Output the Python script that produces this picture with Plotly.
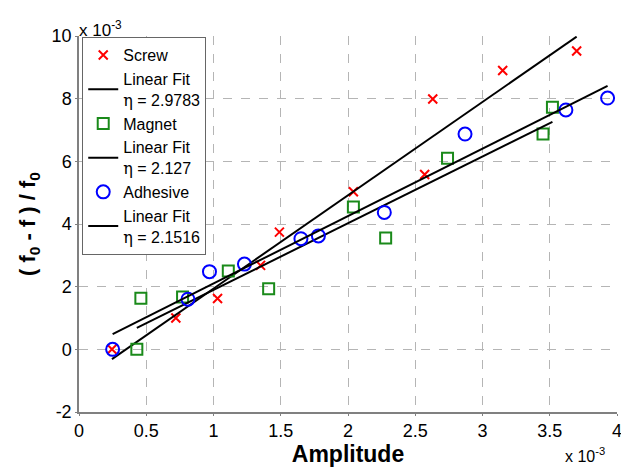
import plotly.graph_objects as go

# Data (values in units of 1e-3)
x_screw = [0.245, 0.72, 1.03, 1.35, 1.49, 2.04, 2.57, 2.63, 3.15, 3.70]
y_screw = [0.0, 1.0, 1.62, 2.68, 3.74, 5.03, 5.58, 7.99, 8.90, 9.52]
x_magnet = [0.43, 0.46, 0.77, 1.11, 1.41, 2.04, 2.28, 2.74, 3.45, 3.52]
y_magnet = [0.0, 1.63, 1.67, 2.50, 1.93, 4.54, 3.55, 6.10, 6.87, 7.73]
x_adhesive = [0.25, 0.81, 0.97, 1.23, 1.65, 1.78, 2.27, 2.87, 3.62, 3.93]
y_adhesive = [0.0, 1.60, 2.48, 2.72, 3.53, 3.62, 4.37, 6.87, 7.64, 8.02]

series_names = ["Screw", "Magnet", "Adhesive"]
fit_slopes = [2.9783, 2.127, 2.1516]
fit_intercepts = [-1.04, -0.23, -0.05]

x_ticks = [0, 0.5, 1, 1.5, 2, 2.5, 3, 3.5, 4]
y_ticks = [-2, 0, 2, 4, 6, 8, 10]

FONT = "Arial, Liberation Sans, sans-serif"
datasets = [(x_screw, y_screw), (x_magnet, y_magnet), (x_adhesive, y_adhesive)]
markers = [
    dict(symbol="x-thin", size=9, color="#ff0000", line=dict(color="#ff0000", width=2)),
    dict(symbol="square-open", size=11, color="#1a8a1a", line=dict(color="#1a8a1a", width=2)),
    dict(symbol="circle-open", size=13, color="#0000ff", line=dict(color="#0000ff", width=2)),
]

fig = go.Figure()
for (xs, ys), name, mk, a, b in zip(datasets, series_names, markers, fit_slopes, fit_intercepts):
    fig.add_trace(go.Scatter(x=xs, y=ys, mode="markers", name=name, marker=mk))
    xl = [min(xs), max(xs)]
    yl = [a * v + b for v in xl]
    fig.add_trace(go.Scatter(
        x=xl, y=yl, mode="lines",
        name="Linear Fit<br><span style=\"font-family:'DejaVu Serif', serif\">η</span> = " + str(a),
        line=dict(color="black", width=2)))

axis_common = dict(
    showline=True, linecolor="#808080", linewidth=1.5,
    ticks="outside", ticklen=2, tickcolor="#808080", tickwidth=1,
    showgrid=True, gridcolor="#b5b5b5", griddash="dash", gridwidth=1,
    zeroline=False, tickfont=dict(family=FONT, size=18, color="black"),
    mirror=False, ticklabeloverflow="allow",
)

fig.update_layout(
    width=621, height=468,
    margin=dict(l=79, r=4, t=36, b=56),
    paper_bgcolor="white", plot_bgcolor="white",
    font=dict(family=FONT, color="black"),
    showlegend=True,
    legend=dict(
        x=0.006, y=0.997, xanchor="left", yanchor="top",
        bgcolor="white", bordercolor="#666666", borderwidth=1,
        font=dict(family=FONT, size=16, color="black"),
        tracegroupgap=0, itemwidth=30,
    ),
    xaxis=dict(range=[0, 4], tickvals=x_ticks, ticktext=[str(v) for v in x_ticks],
               title=dict(text="<b>Amplitude</b>", font=dict(family=FONT, size=23), standoff=0),
               automargin=False, **axis_common),
    yaxis=dict(range=[-2, 10], tickvals=y_ticks, ticktext=[str(v) for v in y_ticks],
               title=dict(text="<b>( f<sub>0</sub> - f ) / f<sub>0</sub></b>", font=dict(family=FONT, size=22), standoff=10),
               automargin=False, **axis_common),
    annotations=[
        dict(text="x 10<sup>-3</sup>", xref="paper", yref="paper", x=0, y=1,
             xanchor="left", yanchor="bottom", showarrow=False, xshift=-2, yshift=-6,
             font=dict(family=FONT, size=17, color="black")),
        dict(text="x 10<sup>-3</sup>", xref="paper", yref="paper", x=1, y=0,
             xanchor="right", yanchor="top", showarrow=False, xshift=-10, yshift=-31,
             font=dict(family=FONT, size=16, color="black")),
    ],
)

fig.write_html("out.html")
